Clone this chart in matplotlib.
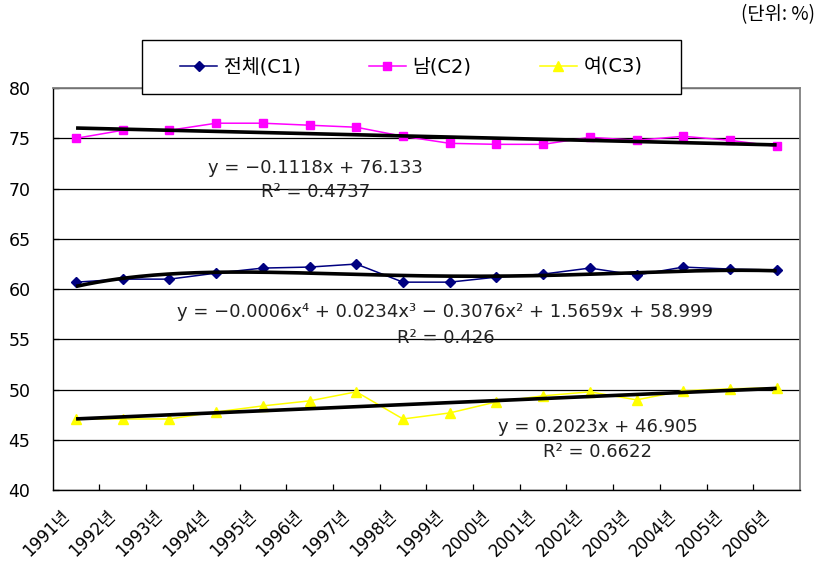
import matplotlib
matplotlib.use('Agg')
import matplotlib.pyplot as plt
import matplotlib.transforms as mtransforms
import numpy as np
from matplotlib.patches import Rectangle

plt.rcParams['font.family'] = ['DejaVu Sans', 'Noto Sans CJK KR']

years = ['1991년', '1992년', '1993년', '1994년', '1995년', '1996년', '1997년', '1998년',
         '1999년', '2000년', '2001년', '2002년', '2003년', '2004년', '2005년', '2006년']
total = [60.7, 61.0, 61.0, 61.6, 62.1, 62.2, 62.5, 60.7,
         60.7, 61.2, 61.5, 62.1, 61.4, 62.2, 62.0, 61.9]
male = [75.0, 75.8, 75.8, 76.5, 76.5, 76.3, 76.1, 75.2,
        74.5, 74.4, 74.4, 75.1, 74.8, 75.2, 74.8, 74.2]
female = [47.1, 47.1, 47.1, 47.8, 48.4, 48.9, 49.8, 47.1,
          47.7, 48.8, 49.4, 49.8, 49.0, 49.9, 50.1, 50.2]

# trend line coefficients as printed on the chart (highest power first)
total_coef = [-0.0006, 0.0234, -0.3076, 1.5659, 58.999]
male_coef = [-0.1118, 76.133]
female_coef = [0.2023, 46.905]

W, H = 820, 564
fig = plt.figure(figsize=(W / 100, H / 100), dpi=100)
ax = fig.add_axes([52.7 / W, 1 - 490.4 / H, (800 - 52.7) / W, (490.4 - 88) / H])

x = np.arange(1, len(years) + 1)
xf = np.linspace(1, len(years), 200)

ax.plot(x, total, color='#000080', lw=1.1, marker='D', ms=5, label='전체(C1)', zorder=3)
ax.plot(x, male, color='#FF00FF', lw=1.1, marker='s', ms=6, label='남(C2)', zorder=3)
ax.plot(x, female, color='#FFFF00', lw=1.1, marker='^', ms=6.5, label='여(C3)', zorder=3)

for c in (total_coef, male_coef, female_coef):
    ax.plot(xf, np.polyval(c, xf), color='black', lw=2.6, zorder=4, solid_capstyle='butt')

ax.set_xlim(0.5, len(years) + 0.5)
ax.set_ylim(40, 80)
ax.set_yticks(range(40, 81, 5))
ax.grid(axis='y', color='black', lw=0.9)
ax.set_axisbelow(True)

ax.set_xticks(x)
ax.set_xticklabels(years, rotation=45, ha='right', rotation_mode='anchor', fontsize=12)
ax.tick_params(axis='x', which='major', length=0, pad=12)
shift = mtransforms.ScaledTranslation(-0.16, 0, fig.dpi_scale_trans)
for lab in ax.get_xticklabels():
    lab.set_transform(lab.get_transform() + shift)
ax.set_xticks(np.arange(1.5, len(years), 1), minor=True)
ax.tick_params(axis='x', which='minor', direction='in', length=4, width=0.9)
ax.tick_params(axis='y', direction='in', length=4, width=0.9, labelsize=12.5, pad=16)

for s in ('left', 'bottom'):
    ax.spines[s].set_color('black')
    ax.spines[s].set_linewidth(1.0)
for s in ('top', 'right'):
    ax.spines[s].set_color('#808080')
    ax.spines[s].set_linewidth(1.3)

# legend box
bx0, by0, bx1, by1 = 141.7, 40, 681, 94
fig.patches.append(Rectangle((bx0 / W, 1 - by1 / H), (bx1 - bx0) / W, (by1 - by0) / H,
                             transform=fig.transFigure, facecolor='white',
                             edgecolor='black', lw=1.0, zorder=2))
handles, labels = ax.get_legend_handles_labels()
fig.legend(handles, labels, loc='center', bbox_to_anchor=((bx0 + bx1) / 2 / W, 1 - (by0 + by1) / 2 / H),
           ncol=3, frameon=False, fontsize=14, handlelength=1.9, handletextpad=0.35,
           columnspacing=3.5, numpoints=1)

# trend line equations
eq_color = '#222222'
def ftext(px, py, s, **kw):
    fig.text(px / W, 1 - py / H, s, ha='center', va='center', color=eq_color,
             fontsize=13, family='DejaVu Sans', **kw)

ftext(315, 168, 'y = −0.1118x + 76.133')
ftext(316, 192, 'R² = 0.4737')
ftext(445, 312, 'y = −0.0006x⁴ + 0.0234x³ − 0.3076x² + 1.5659x + 58.999')
ftext(446, 338, 'R² = 0.426')
ftext(598, 427, 'y = 0.2023x + 46.905')
ftext(598, 452, 'R² = 0.6622')

fig.text(815 / W, 1 - 15 / H, '(단위: %)', ha='right', va='center', fontsize=13.5,
         family=['Noto Sans CJK KR', 'DejaVu Sans'])

fig.savefig('out.png', dpi=100)
